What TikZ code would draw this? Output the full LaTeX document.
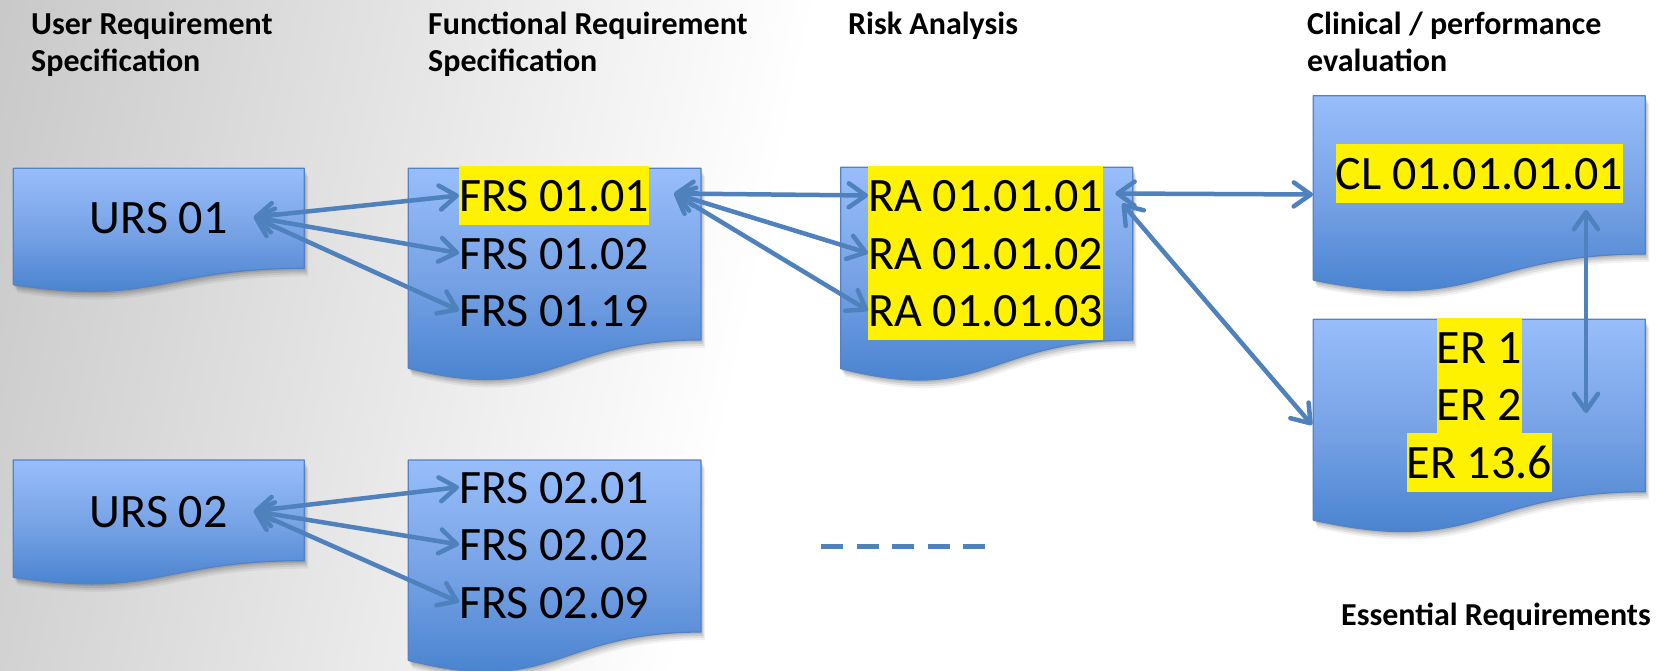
\documentclass[tikz,border=0pt]{standalone}
\usepackage{fontspec}
\setmainfont{Carlito}
\usetikzlibrary{arrows.meta,calc}

\definecolor{boxTop}{RGB}{152,190,250}
\definecolor{boxMid}{RGB}{116,160,228}
\definecolor{boxBot}{RGB}{62,124,202}
\definecolor{boxEdge}{RGB}{84,130,196}
\definecolor{linkBlue}{RGB}{79,129,189}
\definecolor{bgGray}{RGB}{198,198,198}
\definecolor{bgMid}{RGB}{228,228,228}

% document-style box: left, right, top, height (wavy bottom edge)
\newcommand{\DocBox}[4]{%
  \foreach \dx/\dy/\op in {4/8/0.05, 3/6/0.07, 2/4/0.09, 1/2/0.10} {
    \fill[black, opacity=\op, shift={(\dx,\dy)}]
      (#1,#3) -- (#2,#3) -- (#2,{#3+0.802*#4})
      .. controls ({(#1+#2)/2},{#3+0.802*#4}) and ({(#1+#2)/2},{#3+1.1075*#4})
      .. (#1,{#3+0.934*#4}) -- cycle;
  }
  \shade[top color=boxTop, bottom color=boxBot, middle color=boxMid]
    (#1,#3) -- (#2,#3) -- (#2,{#3+0.802*#4})
    .. controls ({(#1+#2)/2},{#3+0.802*#4}) and ({(#1+#2)/2},{#3+1.1075*#4})
    .. (#1,{#3+0.934*#4}) -- cycle;
  \draw[boxEdge, line width=1.2pt, line join=round]
    (#1,#3) -- (#2,#3) -- (#2,{#3+0.802*#4})
    .. controls ({(#1+#2)/2},{#3+0.802*#4}) and ({(#1+#2)/2},{#3+1.1075*#4})
    .. (#1,{#3+0.934*#4}) -- cycle;
}

\tikzset{
  item/.style={font=\fontsize{48}{57.5}\selectfont, inner xsep=0pt, inner ysep=0pt,
               text height=45.7pt, text depth=13.3pt},
  hilite/.style={item, fill=yellow},
  head/.style={font=\fontsize{32}{38}\selectfont\bfseries, anchor=base west, inner sep=0pt},
  twoway/.style={draw=linkBlue, line width=4.5pt, line cap=round, <->},
}

\begin{document}
\begin{tikzpicture}[x=1pt, y=-1pt, >={Straight Barb[length=17pt,width=24pt,round]}]
\useasboundingbox (0,0) rectangle (1667,671);

% background: white page with a grey wash from the top-left corner
\fill[white] (0,0) rectangle (1667,671);
\begin{scope}
  \clip (0,0) rectangle (1667,671);
  \shade[left color=bgGray, middle color=bgMid, right color=white,
         transform canvas={rotate around={-12:(0,0)}}]
    (-40,-800) rectangle (800,900);
\end{scope}

% column headings
\node[head] (t1a) at (31,35) {User Requirement};
\node[head] (t1b) at (31,72) {Specification};
\node[head] (t2a) at (428,35) {Functional Requirement};
\node[head] (t2b) at (428,72) {Specification};
\node[head] (t3)  at (848,35) {Risk Analysis};
\node[head] (t4a) at (1307,35) {Clinical / performance};
\node[head] (t4b) at (1307,72) {evaluation};
\node[head] (t5)  at (1341,625) {Essential Requirements};

% boxes
\DocBox{13.3}{304.3}{168.3}{124.7}
\DocBox{13.3}{304.3}{460}{125.5}
\DocBox{408.3}{701}{168.3}{214}
\DocBox{408.3}{701}{460}{214.5}
\DocBox{840.7}{1132.7}{167.3}{215.5}
\DocBox{1313.3}{1645.3}{95.7}{197.4}
\DocBox{1313.3}{1645.3}{319.3}{215}

% box contents
\node[item, anchor=base, inner xsep=26pt] (urs1) at (158.8,233.3) {URS 01};
\node[item, anchor=base, inner xsep=26pt] (urs2) at (158.8,527.3) {URS 02};

\node[hilite, anchor=base west] (f11) at (459,211.7) {FRS 01.01};
\node[item, anchor=base west] (f12) at (459,269.3) {FRS 01.02};
\node[item, anchor=base west] (f13) at (459,326.7) {FRS 01.19};

\node[item, anchor=base west] (f21) at (459,503.3) {FRS 02.01};
\node[item, anchor=base west] (f22) at (459,560.7) {FRS 02.02};
\node[item, anchor=base west] (f23) at (459,618.3) {FRS 02.09};

\node[hilite, anchor=base west] (ra1) at (868,211.7) {RA 01.01.01};
\node[hilite, anchor=base west] (ra2) at (868,269.3) {RA 01.01.02};
\node[hilite, anchor=base west] (ra3) at (868,326.7) {RA 01.01.03};

\node[hilite, anchor=base] (cl) at (1479.3,189.3) {CL 01.01.01.01};

\node[hilite, anchor=base] (er1) at (1479.3,363.3) {ER 1};
\node[hilite, anchor=base] (er2) at (1479.3,420.7) {ER 2};
\node[hilite, anchor=base] (er3) at (1479.3,478.3) {ER 13.6};

% connector end points
\coordinate (f11r) at ($(f11.east)+(25,-2)$);
\coordinate (ra1r) at ($(ra1.east)+(12,-2)$);
\coordinate (ra1d) at ($(ra1.east)+(19,8)$);
\coordinate (clw) at (1313,194.5);
\coordinate (erw) at (1312,425);
\coordinate (clv) at (1586,210);
\coordinate (erv) at (1586,413);
\coordinate (dashA) at (821,546);
\coordinate (dashB) at (986,546);

% links
\draw[twoway] (urs1.east) -- (f11.west);
\draw[twoway] (urs1.east) -- (f12.west);
\draw[twoway] (urs1.east) -- (f13.west);
\draw[twoway] (urs2.east) -- (f21.west);
\draw[twoway] (urs2.east) -- (f22.west);
\draw[twoway] (urs2.east) -- (f23.west);
\draw[twoway] (f11r) -- (ra1.west);
\draw[twoway] (f11r) -- (ra2.west);
\draw[twoway] (f11r) -- (ra3.west);
\draw[twoway] (ra1r) -- (clw);
\draw[twoway] (ra1d) -- (erw);
\draw[twoway] (clv) -- (erv);

% continuation mark
\draw[draw=linkBlue, line width=5pt, dash pattern=on 22pt off 13.6pt] (dashA) -- (dashB);
\end{tikzpicture}
\end{document}
